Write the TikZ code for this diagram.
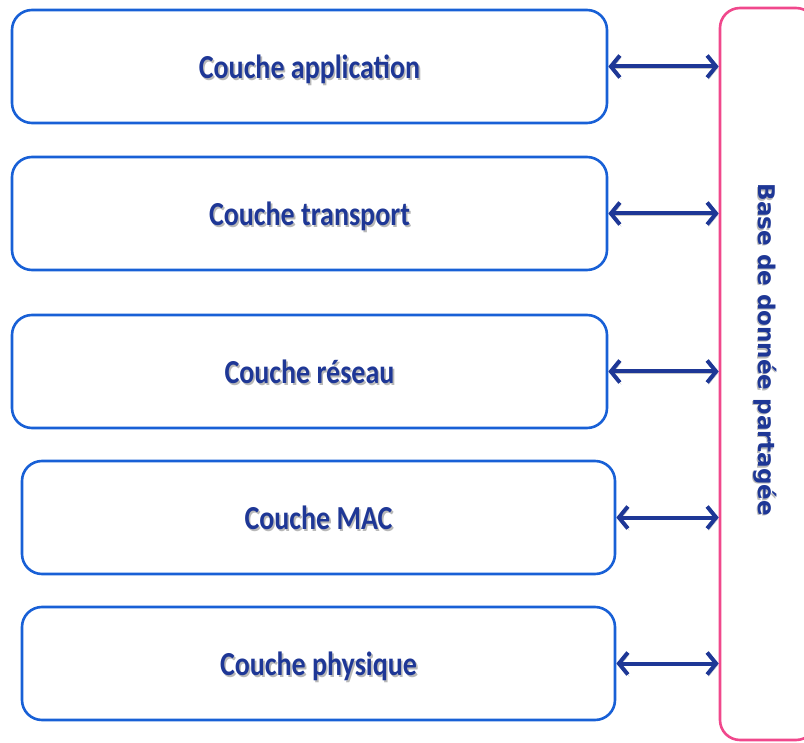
\documentclass[tikz,border=0pt]{standalone}
\usepackage{fontspec}
\usepackage{graphicx}
\setmainfont{Carlito}
\newfontfamily\dbfont{DejaVu Sans}
\usetikzlibrary{arrows.meta}
\definecolor{layerblue}{RGB}{24,96,214}
\definecolor{inkblue}{RGB}{30,55,150}
\definecolor{dbpink}{RGB}{240,72,140}
% text with a soft drop shadow
\newcommand\shadowed[2]{\rlap{\hspace{#2}\raisebox{-#2}{\color{black!28}#1}}#1}
% layer caption, drawn slightly tall
\newcommand\layertext[1]{\scalebox{1}[1.2]{\shadowed{#1}{1.6pt}}}
\begin{document}
\begin{tikzpicture}[x=1pt,y=-1pt,
  layer/.style={draw=layerblue, line width=2.6pt, rounded corners=20pt,
    minimum width=595pt, minimum height=113pt, inner sep=0pt,
    text height=32pt, text depth=8pt,
    text=inkblue, font=\fontsize{28}{30}\selectfont\bfseries},
  dbbox/.style={draw=dbpink, line width=2.6pt, rounded corners=20pt,
    minimum width=96pt, minimum height=732pt, inner sep=0pt},
  barb/.tip={Straight Barb[length=9pt,width=22pt]},
  link/.style={draw=inkblue, line width=4pt, barb-barb,
    preaction={draw=black!22, transform canvas={shift={(1.5pt,-2pt)}}}},
]
\useasboundingbox (0,0) rectangle (804,743);

% protocol layers
\node[layer] (app)  at (309.5,66.5)  {\layertext{Couche application}};
\node[layer] (tra)  at (309.5,213.5) {\layertext{Couche transport}};
\node[layer] (net)  at (309.5,371.5) {\layertext{Couche réseau}};
\node[layer, minimum width=593pt] (mac)  at (318.5,517.5) {\layertext{Couche MAC}};
\node[layer, minimum width=593pt] (phy)  at (318.5,663.5) {\layertext{Couche physique}};

% shared database (its right side runs past the page edge)
\node[dbbox] (db) at (768,374) {};
\node[rotate=-90, text=inkblue, font=\dbfont\fontsize{23}{26}\selectfont\bfseries]
  (dblabel) at (765,350) {\shadowed{Base de donnée partagée}{1.2pt}};

% exchanges between each layer and the database
\foreach \l in {app,tra,net,mac,phy}
  \draw[link] (\l.east) -- (\l.east -| db.west);
\end{tikzpicture}
\end{document}
